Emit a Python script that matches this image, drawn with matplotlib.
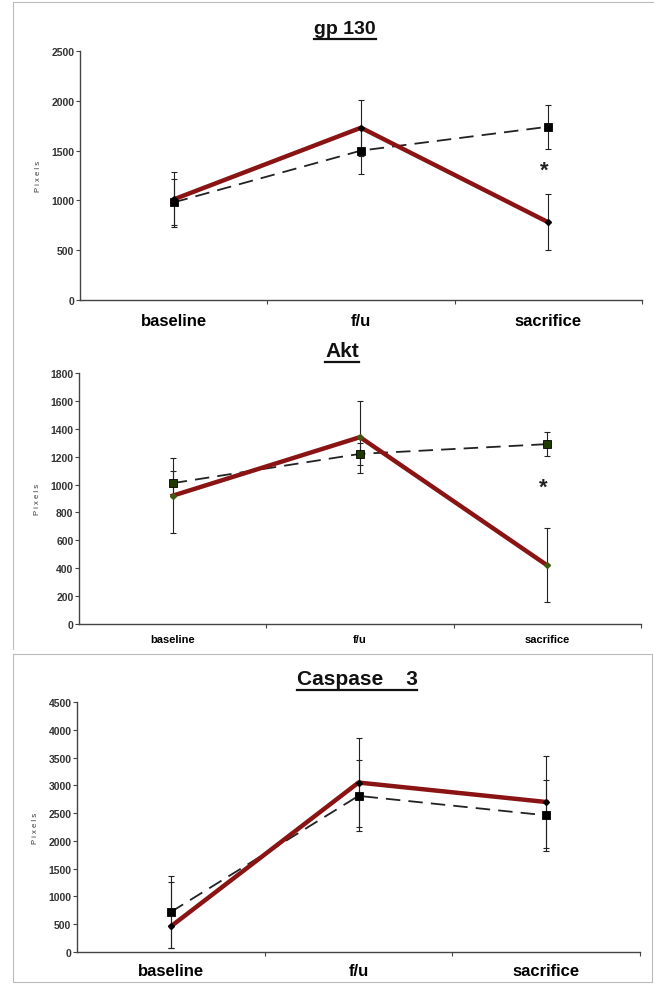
import matplotlib
matplotlib.use('Agg')
import matplotlib.pyplot as plt
from matplotlib.lines import Line2D
import numpy as np

plt.rcParams['font.family'] = ['Liberation Sans', 'DejaVu Sans']

categories = ['baseline', 'f/u', 'sacrifice']

# gp 130
gp_red = [1010, 1730, 780]
gp_red_err = [280, 280, 280]
gp_black = [980, 1500, 1740]
gp_black_err = [230, 230, 220]

# Akt
akt_red = [920, 1340, 420]
akt_red_err = [270, 260, 265]
akt_black = [1010, 1220, 1290]
akt_black_err = [90, 80, 85]

# Caspase 3 (asymmetric bars)
casp_red = [460, 3050, 2700]
casp_red_err = [[390, 800, 820], [910, 800, 820]]
casp_black = [720, 2810, 2460]
casp_black_err = [[650, 640, 640], [540, 640, 640]]

RED = '#8a1414'
W, H = 654, 987

fig = plt.figure(figsize=(W / 100, H / 100), dpi=100)


def box(l, t, r, b):
    return [l / W, 1 - b / H, (r - l) / W, (b - t) / H]


def panel(rect, red, red_err, black, black_err, ymax, ystep, xfs, pad,
          sq_col='black', dia_col='black', star_y=None):
    ax = fig.add_axes(rect)
    x = np.arange(len(categories))
    ax.errorbar(x, black, yerr=black_err, fmt='none', ecolor='#222222',
                elinewidth=0.8, capsize=2, capthick=0.8, zorder=2)
    ax.errorbar(x, red, yerr=red_err, fmt='none', ecolor='#222222',
                elinewidth=0.8, capsize=2, capthick=0.8, zorder=2)
    ax.plot(x, black, color='#222222', lw=1.3, dashes=(8, 4.5), zorder=3,
            marker='s', ms=6, mfc=sq_col, mec='black', mew=0.6)
    ax.plot(x, red, color=RED, lw=3.2, zorder=4)
    ax.plot(x, red, ls='none', marker='D', ms=3, mfc=dia_col, mec=dia_col, zorder=5)
    if star_y is not None:
        ax.text(2 - 0.02, star_y, '*', ha='center', va='center', fontsize=16,
                fontweight='bold', color='#222222')
    ax.set_xlim(-0.5, 2.5)
    ax.set_ylim(0, ymax)
    ax.set_yticks(np.arange(0, ymax + 1, ystep))
    ax.tick_params(axis='y', labelsize=7.5, length=3, width=0.8,
                   color='#444444', pad=1)
    for lab in ax.get_yticklabels():
        lab.set_fontweight('bold')
        lab.set_color('#333333')
    ax.set_xticks(x)
    ax.set_xticklabels(categories, fontsize=xfs, fontweight='bold')
    ax.set_xticks([0.5, 1.5, 2.5], minor=True)
    ax.tick_params(axis='x', which='major', length=0, pad=pad)
    ax.tick_params(axis='x', which='minor', length=3, width=0.8,
                   color='#444444', direction='out')
    ax.set_ylabel('P i x e l s', fontsize=5.5, color='#333333', labelpad=7)
    for s in ['top', 'right']:
        ax.spines[s].set_visible(False)
    for s in ['left', 'bottom']:
        ax.spines[s].set_color('#444444')
        ax.spines[s].set_linewidth(1.0)
    return ax


panel(box(80, 52, 642, 301), gp_red, gp_red_err, gp_black, gp_black_err,
      2500, 500, 12, 9, star_y=1300)
panel(box(79, 374, 641, 625), akt_red, akt_red_err, akt_black, akt_black_err,
      1800, 200, 8, 7, sq_col='#1e3a00', dia_col='#3d5a10', star_y=980)
panel(box(77, 703, 640, 953), casp_red, casp_red_err, casp_black, casp_black_err,
      4500, 500, 12, 8)

# underlined titles
titles = [('gp 130', 345, 30, 14), ('Akt', 342, 352, 15), ('Caspase    3', 357, 680, 15)]
text_objs = []
for s, cx, cy, fs in titles:
    t = fig.text(cx / W, 1 - cy / H, s, ha='center', va='center',
                 fontsize=fs, fontweight='bold', color='#111111')
    text_objs.append(t)
fig.canvas.draw()
r = fig.canvas.get_renderer()
for t in text_objs:
    bb = t.get_window_extent(renderer=r)
    yl = bb.y0 - 1
    fig.add_artist(Line2D([bb.x0 / W, bb.x1 / W], [yl / H, yl / H],
                          transform=fig.transFigure, color='#111111', lw=1.6))

# panel borders from the composite
border = '#bbbbbb'
fig.add_artist(Line2D([13 / W, 13 / W], [1 - 3 / H, 1 - 650 / H],
                      transform=fig.transFigure, color=border, lw=0.8))
fig.add_artist(Line2D([13 / W, 1], [1 - 3 / H, 1 - 3 / H],
                      transform=fig.transFigure, color=border, lw=0.8))
bx = [13, 652, 652, 13, 13]
by = [655, 655, 983, 983, 655]
fig.add_artist(Line2D([v / W for v in bx], [1 - v / H for v in by],
                      transform=fig.transFigure, color=border, lw=0.8))

fig.savefig('out.png', dpi=100)
